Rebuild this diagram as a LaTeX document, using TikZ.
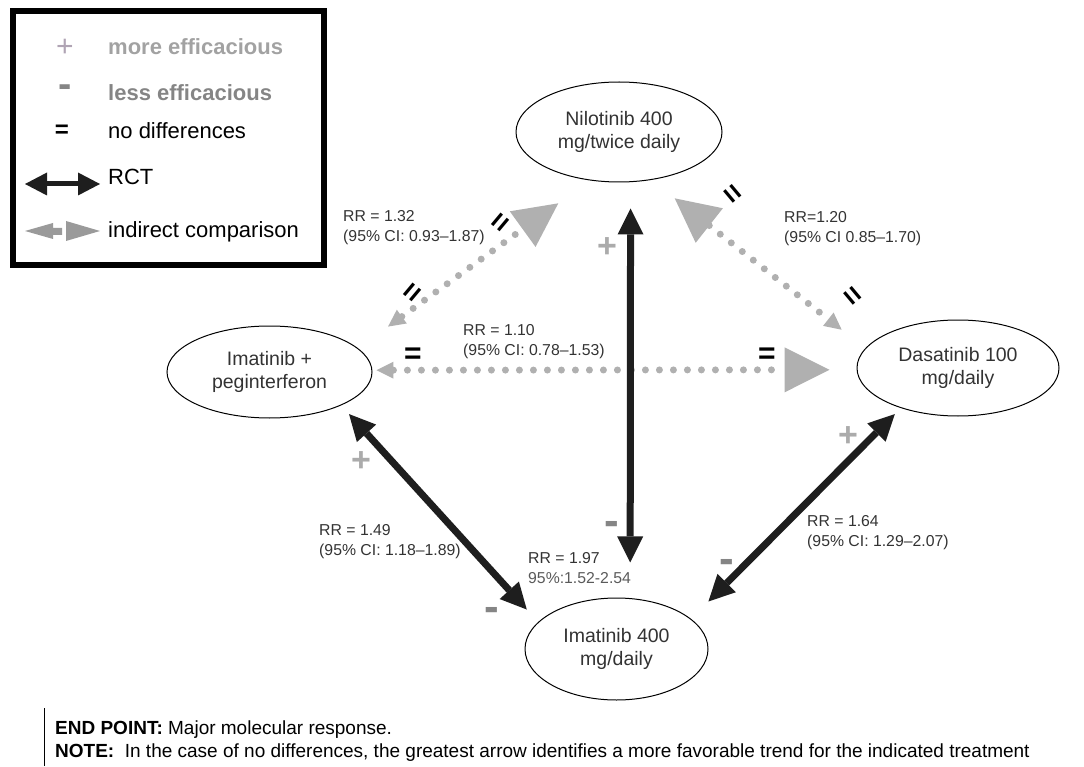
\documentclass[tikz,border=0pt]{standalone}
\usepackage{fontspec}
\setmainfont{Liberation Sans}
\usetikzlibrary{arrows.meta,shapes.geometric}
\definecolor{txt}{HTML}{333333}
\definecolor{lighttxt}{HTML}{5A5A5A}
\definecolor{dotgray}{HTML}{B0B0B0}
\definecolor{plusgray}{HTML}{ABABAB}
\definecolor{minusgray}{HTML}{858585}
\definecolor{rctblack}{HTML}{1E1E1E}
\definecolor{legplus}{HTML}{B0A4B4}
\definecolor{legmore}{HTML}{A2A2A2}
\definecolor{legless}{HTML}{858585}
\definecolor{legind}{HTML}{9A9A9A}
\tikzset{
  smallT/.tip={Triangle[length=17pt,width=17pt,line width=0pt]},
  bigT/.tip={Triangle[length=44pt,width=44pt,line width=0pt]},
  hugeT/.tip={Triangle[length=45pt,width=45pt,line width=0pt]},
  rctT/.tip={Triangle[length=26pt,width=26pt,line width=0pt]},
  legT/.tip={Triangle[length=22pt,width=23pt,line width=0pt]}
}
\begin{document}
\begin{tikzpicture}[x=1pt,y=-1pt,
  drug/.style={ellipse, draw=black, line width=1pt, inner sep=0pt, align=center,
    text=txt, font=\fontsize{19.5}{22.5}\selectfont},
  rr/.style={anchor=west, align=left, text=txt, inner sep=0pt,
    font=\fontsize{15.8}{20}\selectfont},
  rct/.style={draw=rctblack, line width=7pt, rctT-rctT},
  indirect/.style={draw=dotgray, line width=7pt, line cap=round, dash pattern=on 0pt off 14pt},
  plusmark/.style={inner sep=0pt, text=plusgray, font=\fontsize{34}{34}\selectfont\bfseries,
    text height=24.1pt, text depth=0pt},
  minusmark/.style={inner sep=0pt, text=minusgray, font=\fontsize{44}{44}\selectfont\bfseries,
    text height=23.3pt, text depth=0pt},
  eqmark/.style={inner sep=0pt, text=black, font=\fontsize{30}{30}\selectfont\bfseries,
    text height=21.3pt, text depth=0pt},
  legtext/.style={anchor=west, inner sep=0pt, font=\fontsize{22}{24}\selectfont},
  notetext/.style={anchor=west, inner sep=0pt, text=black, font=\fontsize{19}{20}\selectfont}
]
\useasboundingbox (0,0) rectangle (1084,767);

% ---------- legend ----------
\draw[line width=6pt] (13,11) rectangle (324,265);
\node[plusmark, text=legplus, font=\fontsize{30}{30}\selectfont, text height=21.3pt] (lplus) at (65,46) {+};
\node[legtext, text=legmore, font=\fontsize{22}{24}\selectfont\bfseries] (lmore) at (108,47) {more efficacious};
\node[minusmark, text=legless, font=\fontsize{40}{40}\selectfont\bfseries, text height=21.2pt] (lminus) at (65,87) {-};
\node[legtext, text=legless, font=\fontsize{22}{24}\selectfont\bfseries] (lless) at (108,93) {less efficacious};
\node[eqmark, font=\fontsize{24}{24}\selectfont\bfseries, text height=17pt] (leq) at (62,129) {=};
\node[legtext] (lnodiff) at (108,131) {no differences};
\coordinate (rctL) at (25,184);
\coordinate (rctR) at (100,184);
\draw[draw=rctblack, line width=5pt, legT-legT] (rctL) -- (rctR);
\node[legtext] (lrct) at (108,177) {RCT};
\fill[legind] (25,231) -- (53,223) -- (53,228) -- (62,228) -- (62,235) -- (53,235) -- (53,239) -- cycle;
\fill[legind] (66,221) -- (100,231) -- (66,241) -- cycle;
\node[legtext] (lind) at (108,232) {indirect comparison};

% ---------- treatments ----------
\node[drug, minimum width=206pt, minimum height=100pt] (nil) at (619,132) {Nilotinib 400\\mg/twice daily};
\node[drug, minimum width=205pt, minimum height=92pt] (peg) at (269.5,372) {Imatinib +\\peginterferon};
\node[drug, minimum width=202pt, minimum height=96pt] (das) at (958,368) {Dasatinib 100\\mg/daily};
\node[drug, minimum width=183pt, minimum height=102pt] (ima) at (616.5,649) {Imatinib 400\\mg/daily};

% ---------- indirect comparisons ----------
\draw[indirect, smallT-bigT, shorten <=37pt, shorten >=39pt]
  (peg.15.4) -- (nil.-121.2);
\draw[indirect, bigT-smallT, shorten <=29.7pt, shorten >=30pt]
  (nil.-56.3) -- (das.168.2);
\draw[indirect, smallT-hugeT, shorten <=4pt, shorten >=27pt]
  (peg.1.1) -- (das.181.1);

% ---------- RCTs ----------
\draw[rct, shorten <=26.3pt, shorten >=35.6pt] (nil.-77.5) -- (ima.75);
\draw[rct, shorten <=11.7pt, shorten >=16.9pt] (peg.-25.3) -- (ima.161.3);
\draw[rct, shorten <=8.5pt, shorten >=24.5pt] (das.215.5) -- (ima.22.8);

% ---------- marks ----------
\node[eqmark, rotate=50] (eq1) at (412,292) {=};
\node[eqmark, rotate=50] (eq2) at (500,222) {=};
\node[eqmark, rotate=-50] (eq3) at (733,193) {=};
\node[eqmark, rotate=-50] (eq4) at (853,295) {=};
\node[eqmark] (eq5) at (413,353) {=};
\node[eqmark] (eq6) at (767,353) {=};
\node[plusmark] (p1) at (607,245) {+};
\node[plusmark] (p2) at (361,459) {+};
\node[plusmark] (p3) at (848,434) {+};
\node[minusmark] (m1) at (612,524) {-};
\node[minusmark] (m2) at (492,610) {-};
\node[minusmark] (m3) at (727,562) {-};

% ---------- labels ----------
\node[rr] (l132) at (343,228) {RR = 1.32\\(95\% CI: 0.93--1.87)};
\node[rr] (l120) at (784,229) {RR=1.20\\(95\% CI 0.85--1.70)};
\node[rr] (l110) at (463,342) {RR = 1.10\\(95\% CI: 0.78--1.53)};
\node[rr] (l149) at (319,542) {RR = 1.49\\(95\% CI: 1.18--1.89)};
\node[rr] (l197) at (528,568) {RR = 1.97\\\textcolor{lighttxt}{95\%:1.52-2.54}};
\node[rr] (l164) at (807,533) {RR = 1.64\\(95\% CI: 1.29--2.07)};

% ---------- footnote ----------
\coordinate (barT) at (44,708);
\coordinate (barB) at (44,766);
\draw[line width=1pt] (barT) -- (barB);
\node[notetext] (endpt) at (55,730) {\textbf{END POINT:} Major molecular response.};
\node[notetext] (note) at (55,753) {\textbf{NOTE:}\ \ In the case of no differences, the greatest arrow identifies a more favorable trend for the indicated treatment};
\end{tikzpicture}
\end{document}
